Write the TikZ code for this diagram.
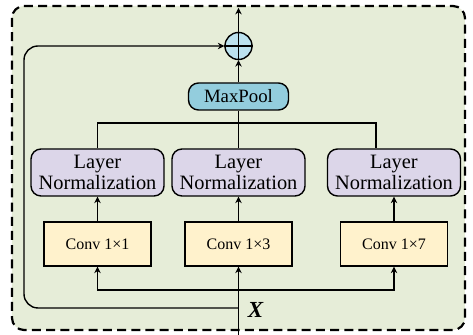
\documentclass[tikz,border=0pt]{standalone}
\usepackage{fontspec}
\setmainfont{Liberation Serif}
\usetikzlibrary{arrows.meta}
\definecolor{panelgreen}{HTML}{E6EDD8}
\definecolor{convyellow}{HTML}{FFF2CC}
\definecolor{normlilac}{HTML}{DCD6E9}
\definecolor{poolblue}{HTML}{93CDDD}
\definecolor{sumblue}{HTML}{BCE2EF}
\tikzset{
  arr/.style={-{Stealth[length=3.2pt,width=3.2pt]}, line width=0.7pt},
  link/.style={line width=0.7pt},
  convbox/.style={draw, line width=0.7pt, fill=convyellow, minimum width=53.5pt,
    minimum height=22pt, inner sep=0pt, font=\fontsize{8}{9.5}\selectfont},
  normbox/.style={draw, line width=0.7pt, fill=normlilac, rounded corners=5pt,
    minimum width=66.5pt, minimum height=23.5pt, inner sep=0pt, align=center,
    font=\fontsize{10.2}{10.8}\selectfont},
}
\begin{document}
\begin{tikzpicture}[x=0.5pt,y=-0.5pt]
  \useasboundingbox (0,0) rectangle (473,335);
  %% the dashed panel
  \draw[fill=panelgreen, line width=1.1pt, dash pattern=on 4.5pt off 2.6pt,
    rounded corners=6pt] (12,6) rectangle (465,330);
  %%%% the three branches: conv then layer norm
  \foreach \i/\x/\k in {1/97.5/1, 2/238.5/3, 3/394/7}
  {
    \node[convbox] (conv\i) at (\x,244) {Conv 1×\k};
    \node[normbox] (norm\i) at (\x,172.5) {Layer\\Normalization};
    \draw[arr] (conv\i.north) -- (norm\i.south);
  }
  %% pooling and the sum
  \node[draw, line width=0.7pt, fill=poolblue, rounded corners=5pt, minimum width=50pt,
    minimum height=13.5pt, inner sep=0pt, font=\fontsize{9.4}{10}\selectfont]
    (pool) at (238.5,96.5) {MaxPool};
  \node[draw, line width=0.7pt, fill=sumblue, circle, minimum size=13.5pt, inner sep=0pt]
    (sum) at (238.5,46) {};
  \draw[link] (sum.north) -- (sum.south) (sum.west) -- (sum.east);
  %% the input
  \coordinate (in) at (238.5,335);
  \coordinate (split) at (238.5,290);
  \coordinate (skip) at (238.5,308);
  \node[font=\fontsize{11.5}{12}\selectfont\bfseries\itshape] (xlab) at (255.5,309.5) {X};
  \draw[arr] (in) -- (conv2.south);
  \draw[arr] (split) -| (conv1.south);
  \draw[arr] (split) -| (conv3.south);
  \draw[arr, rounded corners=7pt] (skip) -- (24,308) -- (24,46) -- (sum.west);
  %% merging the norms into the pool
  \coordinate (join) at (376,123);
  \draw[link] (norm1.north) |- (join) -- (join |- norm3.north);
  \draw[link] (norm2.north) -- (pool.south);
  \draw[arr] (pool.north) -- (sum.south);
  \coordinate (out) at (238.5,8);
  \draw[arr] (sum.north) -- (out);
\end{tikzpicture}
\end{document}
